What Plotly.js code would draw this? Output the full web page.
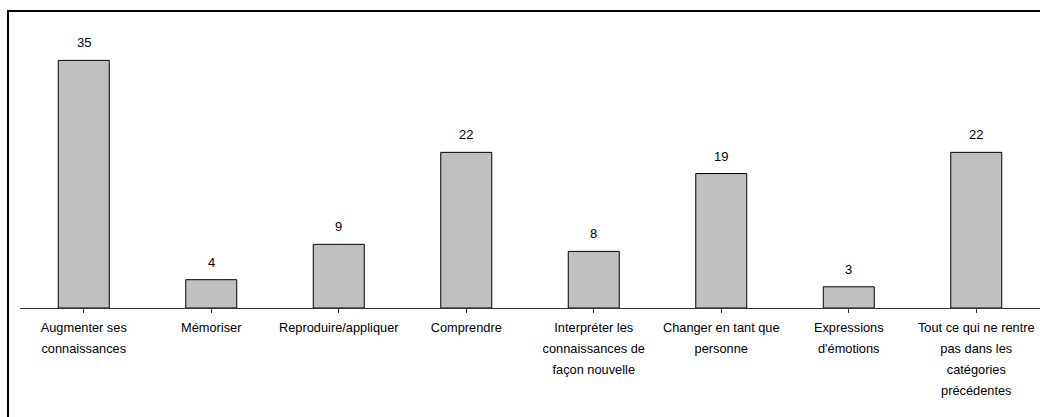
<!DOCTYPE html>
<html>
<head>
<meta charset="utf-8">
<script src="https://cdn.plot.ly/plotly-3.0.1.min.js"></script>
<style>
  html, body { margin: 0; padding: 0; background: #fff; overflow: hidden; }
  #chart { width: 1040px; height: 417px; }
  #frame { position: absolute; left: 7px; top: 10px; width: 1100px; height: 500px; border: 2px solid #000; pointer-events: none; }
</style>
</head>
<body>
<div id="chart"></div>
<div id="frame"></div>
<script>
const categories = [
  "Augmenter ses<br>connaissances",
  "Mémoriser",
  "Reproduire/appliquer",
  "Comprendre",
  "Interpréter les<br>connaissances de<br>façon nouvelle",
  "Changer en tant que<br>personne",
  "Expressions<br>d'émotions",
  "Tout ce qui ne rentre<br>pas dans les<br>catégories<br>précédentes"
];
const values = [35, 4, 9, 22, 8, 19, 3, 22];

const idx = categories.map((_, i) => i);
const tickText = categories.map(c => c.split("<br>").map(s => '<span style="font-size:12.8px">' + s + '</span>').join("<br>"));

const trace = {
  type: "bar",
  x: idx,
  y: values,
  width: 0.4,
  marker: { color: "#c0c0c0", line: { color: "#000", width: 1 } },
  hoverinfo: "skip"
};

const annotations = values.map((v, i) => ({
  x: i, y: v, xref: "x", yref: "y",
  text: String(v), showarrow: false,
  yanchor: "bottom", yshift: 8,
  font: { family: "Liberation Sans, Arial, sans-serif", size: 13, color: "#000" }
}));

const layout = {
  width: 1040, height: 417,
  margin: { l: 20, r: 0, t: 25, b: 109 },
  paper_bgcolor: "#fff", plot_bgcolor: "#fff",
  showlegend: false,
  font: { family: "Liberation Sans, Arial, sans-serif", color: "#000" },
  xaxis: {
    range: [-0.5, 7.5],
    tickmode: "array", tickvals: idx, ticktext: tickText,
    tickson: "boundaries",
    ticks: "outside", ticklen: 4, tickcolor: "#333", tickwidth: 1,
    showline: true, linecolor: "#333", linewidth: 1,
    showgrid: false, zeroline: false,
    tickfont: { size: 16, color: "#000" },
    fixedrange: true
  },
  yaxis: {
    range: [0, 40], visible: false, showgrid: false, zeroline: false, fixedrange: true
  },
  annotations: annotations
};

Plotly.newPlot("chart", [trace], layout, { displayModeBar: false, staticPlot: true });
</script>
</body>
</html>
